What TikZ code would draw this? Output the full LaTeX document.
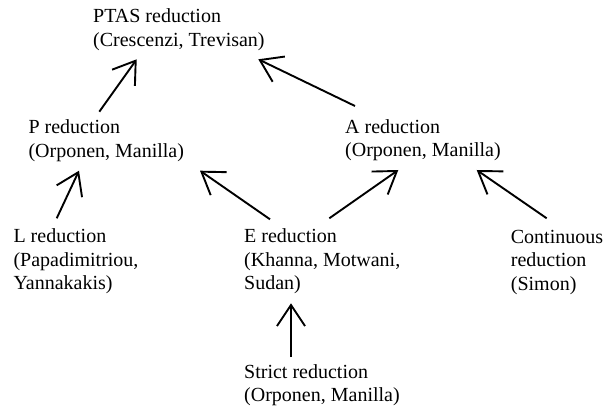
\documentclass[tikz,border=0pt]{standalone}
\usepackage{fontspec}
\setmainfont{Liberation Serif}
\usetikzlibrary{arrows.meta}

\begin{document}
\begin{tikzpicture}[x=1pt,y=-1pt,
    lbl/.style={anchor=base west, inner sep=0pt, align=left,
                font=\fontsize{20}{23.4}\selectfont},
    redarrow/.style={line width=1.9pt,
                -{Straight Barb[length=21pt,width=28pt,line width=1.9pt]}}]
  \useasboundingbox (0,0) rectangle (606,409);

  % reductions (placed by the baseline of their last line)
  \node[lbl] (ptas)   at (93,46.1)    {PTAS reduction\\(Crescenzi, Trevisan)};
  \node[lbl] (pred)   at (28.3,157.4) {P reduction\\(Orponen, Manilla)};
  \node[lbl] (ared)   at (345,156.7)  {A reduction\\(Orponen, Manilla)};
  \node[lbl] (lred)   at (13.3,289.5) {L reduction\\(Papadimitriou,\\Yannakakis)};
  \node[lbl] (ered)   at (244,289.5)  {E reduction\\(Khanna, Motwani,\\Sudan)};
  \node[lbl] (cont)   at (510.7,290.1){Continuous\\reduction\\(Simon)};
  \node[lbl] (strict) at (244,401.7)  {Strict reduction\\(Orponen, Manilla)};

  % implications between reductions
  \draw[redarrow] ([shift={(71,-45.7)}]pred.base west)   -- ([shift={(43.7,13.2)}]ptas.base west);
  \draw[redarrow] ([shift={(10,-50.7)}]ared.base west)   -- ([shift={(165.3,13.2)}]ptas.base west);
  \draw[redarrow] ([shift={(85.3,-71.2)}]ered.base west) -- ([shift={(53.3,13.3)}]ared.base west);
  \draw[redarrow] ([shift={(36,-71.8)}]cont.base west)   -- ([shift={(131.7,13.3)}]ared.base west);
  \draw[redarrow] ([shift={(43.4,-71.2)}]lred.base west) -- ([shift={(50.7,13.3)}]pred.base west);
  \draw[redarrow] ([shift={(26,-70.2)}]ered.base west)   -- ([shift={(171.7,13.3)}]pred.base west);
  \draw[redarrow] ([shift={(47,-44.7)}]strict.base west) -- ([shift={(47,13.8)}]ered.base west);
\end{tikzpicture}
\end{document}
